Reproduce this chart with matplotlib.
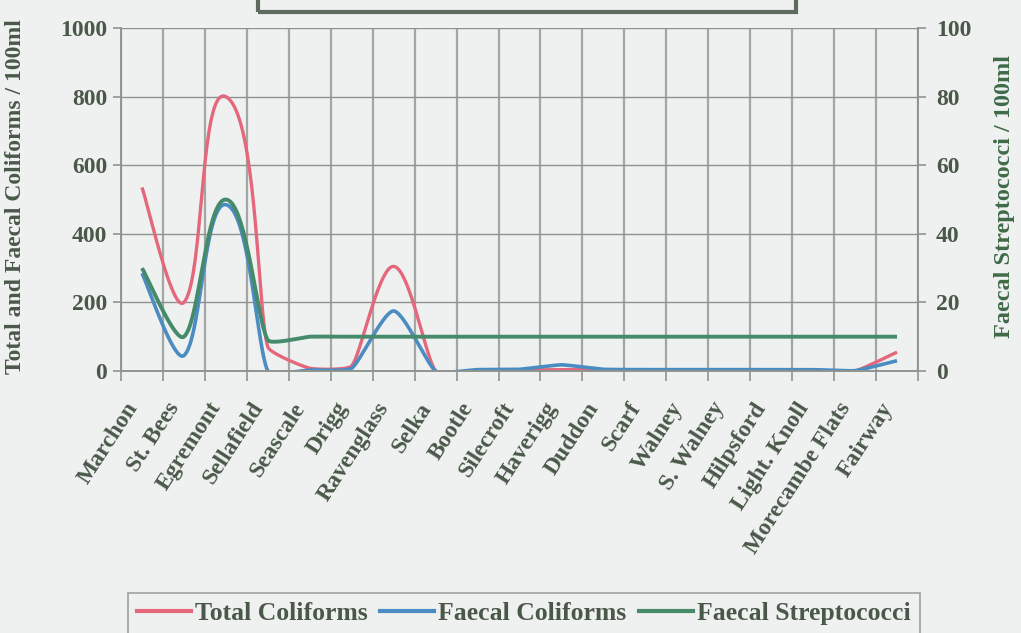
import numpy as np
import matplotlib
matplotlib.use("Agg")
import matplotlib.pyplot as plt
from matplotlib.lines import Line2D
from matplotlib.patches import Rectangle

sites = ["Marchon", "St. Bees", "Egremont", "Sellafield", "Seascale", "Drigg",
         "Ravenglass", "Selka", "Bootle", "Silecroft", "Haverigg", "Duddon",
         "Scarf", "Walney", "S. Walney", "Hilpsford", "Light. Knoll",
         "Morecambe Flats", "Fairway"]
total_coliforms = [535, 200, 800, 70, 8, 15, 305, 0, 2, 3, 4, 3, 3, 3, 3, 3, 3, 0, 55]
faecal_coliforms = [285, 45, 485, 0, 3, 8, 175, 0, 4, 5, 18, 5, 4, 4, 4, 4, 4, 1, 30]
faecal_strep = [30, 10, 50, 9, 10, 10, 10, 10, 10, 10, 10, 10, 10, 10, 10, 10, 10, 10, 10]

W, H = 1021, 633
left, right, top, bottom = 121 / W, 918 / W, 1 - 28 / H, 1 - 371 / H

bg = "#eff1f0"
txt = "#4a5849"
red = "#e4677c"
blue = "#4b8cc2"
green = "#458a6a"


def excel_smooth(y, sx, sy, f=0.14, n=40):
    # smoothed line like Excel: bezier, control points along the local tangent,
    # a fraction of the segment length away (worked out in pixel space)
    p = np.column_stack([np.arange(len(y)) * sx, np.asarray(y, float) * sy])
    k = len(p)
    out = []
    for i in range(k - 1):
        p0, p1 = p[i], p[i + 1]
        seg = np.hypot(*(p1 - p0))
        t0 = p[i + 1] - p[max(i - 1, 0)]
        t1 = p[min(i + 2, k - 1)] - p[i]
        c1 = p0 + t0 / np.hypot(*t0) * seg * f
        c2 = p1 - t1 / np.hypot(*t1) * seg * f
        t = np.linspace(0, 1, n)[:, None]
        b = ((1 - t) ** 3) * p0 + 3 * (1 - t) ** 2 * t * c1 + 3 * (1 - t) * t ** 2 * c2 + t ** 3 * p1
        out.append(b if i == 0 else b[1:])
    out = np.vstack(out)
    return out[:, 0] / sx, out[:, 1] / sy


plt.rcParams["font.family"] = ["Liberation Serif", "DejaVu Serif"]
plt.rcParams["font.weight"] = "bold"
plt.rcParams["axes.labelweight"] = "bold"

fig = plt.figure(figsize=(W / 100, H / 100), dpi=100, facecolor=bg)
ax = fig.add_axes([left, bottom, right - left, top - bottom], facecolor=bg)
ax2 = ax.twinx()

sx = W * (right - left) / len(sites)
sy1 = H * (top - bottom) / 1000
sy2 = H * (top - bottom) / 100

xs, ys = excel_smooth(total_coliforms, sx, sy1)
ax.plot(xs, ys, color=red, lw=2.4, solid_capstyle="butt")
xs, ys = excel_smooth(faecal_coliforms, sx, sy1)
ax.plot(xs, ys, color=blue, lw=2.6, solid_capstyle="butt")
xs, ys = excel_smooth(faecal_strep, sx, sy2)
ax2.plot(xs, ys, color=green, lw=2.8, solid_capstyle="butt")

x = np.arange(len(sites))
ax.set_xlim(-0.5, len(sites) - 0.5)
ax.set_ylim(0, 1000)
ax2.set_ylim(0, 100)
ax.set_yticks(range(0, 1001, 200))
ax2.set_yticks(range(0, 101, 20))

ax.set_xticks(x)
ax.set_xticklabels(sites, rotation=57, ha="right", va="bottom", rotation_mode="anchor",
                   fontsize=17, color=txt)
ax.set_xticks(np.arange(len(sites) + 1) - 0.5, minor=True)
ax.tick_params(axis="x", which="major", length=0, pad=28)
ax.tick_params(axis="x", which="minor", length=7, width=1.2, color="#8f948f")
ax.tick_params(axis="y", length=6, width=1.2, color="#8f948f", labelsize=17,
               labelcolor=txt, pad=4)
ax2.tick_params(axis="y", length=6, width=1.2, color="#8f948f", labelsize=17,
                labelcolor=txt, pad=7)

ax.grid(True, which="minor", axis="x", color="#a3a7a3", lw=1.6)
ax.grid(True, which="major", axis="y", color="#8e928e", lw=1.0)
ax.set_axisbelow(True)

for a in (ax, ax2):
    for s in a.spines.values():
        s.set_color("#8f948f")
        s.set_linewidth(1.2)
    a.spines["top"].set_visible(False)

ax.set_ylabel("Total and Faecal Coliforms / 100ml", fontsize=17, color=txt)
ax2.set_ylabel("Faecal Streptococci / 100ml", fontsize=17.5, color="#3f6a48")
ax.yaxis.set_label_coords(-0.119, 0.51)
ax2.yaxis.set_label_coords(1.095, 0.51)

fig.patches.append(Rectangle((258 / W, 1 - 12 / H), (796 - 258) / W, 0.1,
                             transform=fig.transFigure, fill=False,
                             edgecolor="#5d6a5d", lw=3))

handles = [Line2D([], [], color=red, lw=3),
           Line2D([], [], color=blue, lw=3),
           Line2D([], [], color=green, lw=3)]
leg = fig.legend(handles, ["Total Coliforms", "Faecal Coliforms", "Faecal Streptococci"],
                 loc="upper left", bbox_to_anchor=(128 / W, 1 - 593 / H), ncol=3,
                 fontsize=18.5, frameon=True, fancybox=False, handlelength=2.1,
                 handletextpad=0.15, columnspacing=0.5, borderpad=0.35,
                 borderaxespad=0)
leg.get_frame().set_edgecolor("#8a8f8a")
leg.get_frame().set_facecolor(bg)
leg.get_frame().set_linewidth(1.2)
for t in leg.get_texts():
    t.set_color(txt)

fig.savefig("out.png", dpi=100, facecolor=bg)
